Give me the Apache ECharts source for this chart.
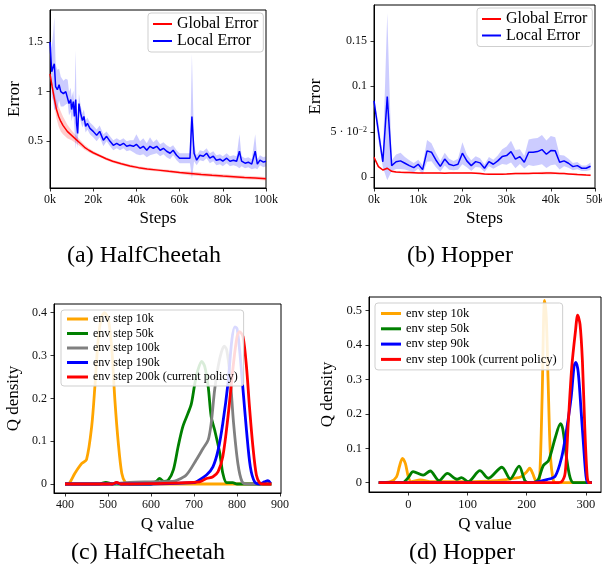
<!DOCTYPE html>
<html>
<head>
<meta charset="utf-8">
<script src="https://cdn.jsdelivr.net/npm/echarts@6/dist/echarts.min.js"></script>
<style>
html, body { margin: 0; padding: 0; background: #fff; }
#chart { width: 602px; height: 576px; }
</style>
</head>
<body>
<div id="chart"></div>
<script>
var FONT = 'Liberation Serif';

// ---- (a) HalfCheetah, steps in thousands ----
var globalStepsA = [0,1,2,3,4,5,6,7,8,10,12,14,16,18,20,23,26,29,33,37,41,45,50,55,60,65,70,75,80,85,90,95,100];
var globalErrA = [1.18,1.05,0.93,0.82,0.75,0.70,0.66,0.63,0.60,0.56,0.52,0.48,0.44,0.41,0.385,0.355,0.325,0.30,0.275,0.252,0.235,0.222,0.21,0.198,0.187,0.177,0.167,0.158,0.15,0.143,0.136,0.13,0.123];
var globalSpreadA = [0.02,0.04,0.07,0.09,0.1,0.1,0.09,0.08,0.07,0.05,0.04,0.03,0.025,0.02,0.018,0.015,0.015,0.015,0.015,0.015,0.015,0.015,0.015,0.015,0.015,0.02,0.018,0.018,0.018,0.018,0.018,0.018,0.018];

var localStepsA = [0,0.8,1.5,2,2.6,3.4,4.2,5,6.2,7.3,8.2,8.8,9.6,10,10.8,11.3,11.9,12.3,12.8,13.4,14.2,15,15.7,16.5,17.3,18.5,20,21.6,23,24.7,26.2,27.8,29.3,30.9,32.4,34,35.5,37,38.6,40,41.7,43.2,44.8,46.3,47.8,49.4,51,52.5,54,55.6,57,58.6,60,63,64.8,65.7,66.7,67.9,69.4,71,72.5,74,75.6,77,78.7,80,81.8,83.3,84.9,86.4,87.7,88.7,90.3,91.8,93.4,95,96,97.2,98.8,100];
var localErrA = [1.50,1.20,1.25,1.28,1.05,1.02,1.07,1.00,0.98,1.00,1.00,0.88,0.92,0.82,0.90,0.75,0.92,0.68,0.58,0.88,0.78,0.71,0.75,0.65,0.68,0.63,0.60,0.56,0.60,0.51,0.55,0.50,0.46,0.48,0.46,0.48,0.45,0.46,0.45,0.47,0.43,0.45,0.41,0.45,0.43,0.45,0.41,0.43,0.40,0.38,0.41,0.36,0.33,0.33,0.33,0.75,0.38,0.31,0.36,0.35,0.38,0.33,0.35,0.31,0.32,0.30,0.33,0.30,0.31,0.30,0.40,0.30,0.28,0.29,0.27,0.40,0.27,0.31,0.29,0.30];
var localSpreadA = [0.05,0.25,0.35,0.47,0.22,0.2,0.16,0.15,0.13,0.13,0.12,0.12,0.12,0.12,0.11,0.12,0.5,0.16,0.15,0.1,0.08,0.07,0.07,0.06,0.06,0.06,0.06,0.06,0.06,0.06,0.05,0.05,0.05,0.05,0.05,0.05,0.05,0.05,0.06,0.1,0.07,0.08,0.07,0.09,0.06,0.07,0.06,0.06,0.06,0.06,0.05,0.05,0.05,0.05,0.05,0.63,0.08,0.05,0.05,0.05,0.05,0.05,0.05,0.05,0.05,0.05,0.05,0.05,0.05,0.05,0.17,0.05,0.05,0.05,0.05,0.17,0.05,0.05,0.05,0.05];

// ---- (b) Hopper, steps in thousands ----
var stepsB = [0,1,2,3,4,5,6,7,8,9,10,11,12,13,14,15,16,17,18,19,20,21,22,23,24,25,26,27,28,29,30,31,32,33,34,35,36,37,38,39,40,41,42,43,44,45,46,47,48,49];
var globalErrB = [0.022,0.0117,0.008,0.0099,0.0065,0.0058,0.0055,0.0053,0.0052,0.005,0.0048,0.0046,0.0048,0.0048,0.0047,0.0046,0.0045,0.0046,0.0046,0.0046,0.0046,0.0047,0.0047,0.0045,0.0042,0.0036,0.0034,0.0034,0.0034,0.0034,0.0035,0.0038,0.004,0.004,0.0041,0.0042,0.0043,0.0044,0.0045,0.0046,0.0046,0.0045,0.0042,0.004,0.0037,0.0034,0.003,0.0028,0.0024,0.0022];
var globalSpreadB = [0.002,0.001,0.001,0.001,0.001,0.001,0.001,0.001,0.001,0.001,0.001,0.001,0.001,0.001,0.001,0.001,0.001,0.001,0.001,0.001,0.001,0.001,0.001,0.001,0.001,0.001,0.001,0.001,0.001,0.001,0.001,0.001,0.001,0.001,0.001,0.001,0.001,0.0012,0.0015,0.0015,0.0015,0.0012,0.001,0.001,0.001,0.001,0.001,0.001,0.001,0.001];
var localErrB = [0.0839,0.050,0.017,0.0886,0.0128,0.017,0.018,0.0154,0.0128,0.0106,0.0143,0.0084,0.029,0.0275,0.019,0.012,0.020,0.0143,0.0128,0.0143,0.0264,0.018,0.0128,0.0172,0.0158,0.0099,0.0172,0.0143,0.018,0.0227,0.0238,0.0282,0.020,0.0227,0.0165,0.0275,0.0275,0.0282,0.0304,0.0253,0.0293,0.029,0.0165,0.018,0.0154,0.0117,0.0128,0.0099,0.0099,0.0121];
var localSpreadB = [0.003,0.01,0.006,0.092,0.006,0.008,0.009,0.007,0.006,0.005,0.005,0.005,0.012,0.01,0.008,0.006,0.007,0.006,0.005,0.006,0.012,0.007,0.006,0.006,0.005,0.004,0.005,0.005,0.006,0.008,0.01,0.012,0.01,0.008,0.007,0.014,0.015,0.015,0.016,0.015,0.016,0.015,0.008,0.006,0.005,0.004,0.004,0.003,0.003,0.004];

// ---- (c) HalfCheetah Q density ----
var qC10 = [400,410,423,439,450,462,470,477,485,492,501,509,516,524,532,540,550,650,780,880];
var dC10 = [0,0.002,0.025,0.048,0.057,0.134,0.235,0.336,0.39,0.40,0.383,0.313,0.196,0.095,0.025,0.004,0,0,0,0];
var qC50 = [400,480,495,510,600,612,620,630,640,652,663,674,686,694,702,709,718,725,733,740,748,760,767,776,790,800,880];
var dC50 = [0,0,0.004,0,0,0.006,0.013,0.006,0.009,0.033,0.087,0.134,0.165,0.188,0.235,0.266,0.286,0.274,0.227,0.157,0.126,0.072,0.025,0.003,0.003,0,0];
var qC100 = [400,500,550,600,650,659,682,705,721,733,740,748,756,764,770,776,784,792,802,812,825,880];
var dC100 = [0,0,0.004,0.005,0.006,0.008,0.021,0.056,0.083,0.103,0.142,0.22,0.274,0.309,0.322,0.313,0.25,0.142,0.048,0.005,0,0];
var qC190 = [400,510,520,530,600,700,705,729,744,756,767,779,788,795,800,806,814,822,831,841,853,864,872,878];
var dC190 = [0,0,0.003,0,0,0.003,0.005,0.021,0.04,0.079,0.142,0.235,0.336,0.367,0.363,0.313,0.22,0.126,0.04,0.005,0,0.005,0.008,0.002];
var qC200 = [400,510,520,530,600,713,729,744,756,767,779,791,800,806,814,822,829,837,845,853,860,880];
var dC200 = [0,0,0.004,0,0.001,0.005,0.013,0.017,0.029,0.064,0.157,0.274,0.344,0.356,0.344,0.274,0.18,0.087,0.021,0.002,0,0];

// ---- (d) Hopper Q density ----
var qD10 = [-50,-30,-20,-15,-10,-5,0,5,20,40,100,150,170,180,190,200,205,210,215,219,222,226,230,233,236,240,245,250,310];
var dD10 = [0,0.003,0.017,0.047,0.071,0.056,0.017,0.003,0.008,0.003,0.003,0.006,0.01,0.013,0.017,0.032,0.042,0.027,0.006,0.003,0.02,0.25,0.53,0.48,0.30,0.08,0.006,0,0];
var qD50 = [-50,-10,0,8,25,37,52,66,82,90,101,121,135,158,172,187,197,205,215,220,228,237,248,257,261,267,273,279,310];
var dD50 = [0,0,0.015,0.032,0.022,0.034,0.006,0.027,0.01,0.015,0.003,0.035,0.013,0.045,0.011,0.048,0.006,0,0.003,0.011,0.05,0.065,0.13,0.172,0.155,0.075,0.016,0,0];
var qD90 = [-50,210,220,234,248,259,267,275,280,283,287,292,296,300,303,310];
var dD90 = [0,0,0.003,0.009,0.019,0.074,0.151,0.248,0.34,0.35,0.32,0.204,0.107,0.02,0,0];
var qD100 = [-50,250,259,265,270,276,282,286,290,294,298,302,305,310];
var dD100 = [0,0,0.003,0.03,0.17,0.335,0.436,0.487,0.46,0.354,0.16,0.02,0,0];

// tick values and labels
var xTicksA = [0,20,40,60,80,100];
var yTicksA = [0.5,1,1.5];
var yLabelsA = ['0.5','1','1.5'];
var xTicksB = [0,10,20,30,40,50];
var yTicksB = [0,0.05,0.1,0.15];
var yLabelsB = ['0','5 · 10{s|−2}','0.1','0.15'];
var xTicksC = [400,500,600,700,800,900];
var yTicksC = [0,0.1,0.2,0.3,0.4];
var xTicksD = [0,100,200,300];
var yTicksD = [0,0.1,0.2,0.3,0.4,0.5];

function pairs(xs, ys) {
  return xs.map(function (x, i) { return [x, ys[i]]; });
}

function pickLabel(ticks, labels) {
  return function (v) {
    for (var i = 0; i < ticks.length; i++) {
      if (Math.abs(ticks[i] - v) < 1e-9) return labels[i];
    }
    return '';
  };
}

// shaded band (mean +- spread) drawn as one polygon
function band(gi, xs, ys, sp, color) {
  return {
    type: 'custom', xAxisIndex: gi, yAxisIndex: gi, silent: true, clip: true, z: 1,
    animation: false,
    data: xs.map(function (x, i) { return [x, ys[i] - sp[i], ys[i] + sp[i]]; }),
    encode: { x: 0, y: [1, 2] },
    renderItem: function (params, api) {
      if (params.dataIndex !== 0) return;
      var pts = [];
      for (var i = 0; i < xs.length; i++) pts.push(api.coord([xs[i], ys[i] + sp[i]]));
      for (var j = xs.length - 1; j >= 0; j--) pts.push(api.coord([xs[j], ys[j] - sp[j]]));
      return { type: 'polygon', shape: { points: pts }, style: { fill: color } };
    }
  };
}

function line(gi, name, xs, ys, color, width, smooth) {
  return {
    type: 'line', name: name, xAxisIndex: gi, yAxisIndex: gi,
    data: pairs(xs, ys), color: color, symbol: 'none', smooth: smooth || false,
    lineStyle: { color: color, width: width }, animation: false, z: 3
  };
}

function xAxis(gi, min, max, ticks, fmt, name, gap, fs) {
  return {
    type: 'value', gridIndex: gi, min: min, max: max,
    name: name, nameLocation: 'middle', nameGap: gap, nameMoveOverlap: false,
    nameTextStyle: { fontFamily: FONT, fontSize: 17, color: '#000' },
    axisLine: { onZero: false, lineStyle: { color: '#000', width: 1 } },
    axisTick: { customValues: ticks, length: 3.5, lineStyle: { color: '#000', width: 0.8 } },
    axisLabel: { customValues: ticks, formatter: fmt, fontFamily: FONT, fontSize: fs, color: '#111', margin: 6 },
    splitLine: { show: false }
  };
}

function yAxis(gi, min, max, ticks, fmt, name, gap, fs, rich) {
  var ax = {
    type: 'value', gridIndex: gi, min: min, max: max,
    name: name, nameLocation: 'middle', nameGap: gap, nameMoveOverlap: false,
    nameTextStyle: { fontFamily: FONT, fontSize: 17, color: '#000' },
    axisLine: { onZero: false, lineStyle: { color: '#000', width: 1 } },
    axisTick: { customValues: ticks, length: 3.5, lineStyle: { color: '#000', width: 0.8 } },
    axisLabel: { customValues: ticks, formatter: fmt, fontFamily: FONT, fontSize: fs, color: '#111', margin: 7 },
    splitLine: { show: false }
  };
  if (rich) ax.axisLabel.rich = rich;
  return ax;
}

function legend(names, left, top, fs, gap, iw, ih, pad) {
  return {
    data: names, orient: 'vertical', left: left, top: top,
    icon: 'rect', itemWidth: iw, itemHeight: ih, itemGap: gap, padding: pad,
    selectedMode: false, borderColor: '#cfcfcf', borderWidth: 1, borderRadius: 3,
    backgroundColor: 'rgba(255,255,255,0.85)',
    itemStyle: { borderWidth: 0 },
    textStyle: { fontFamily: FONT, fontSize: fs, lineHeight: fs, color: '#000' }
  };
}

function caption(text, x, y) {
  return {
    type: 'text', x: x, y: y,
    style: { text: text, fontFamily: FONT, fontSize: 24, fill: '#000', align: 'center', verticalAlign: 'middle' }
  };
}

var kFmt = function (v) { return v + 'k'; };
var plainFmt = function (v) { return String(v); };

var series = [
  band(0, globalStepsA, globalErrA, globalSpreadA, 'rgba(255,0,0,0.2)'),
  band(0, localStepsA, localErrA, localSpreadA, 'rgba(0,0,255,0.2)'),
  line(0, 'Global Error', globalStepsA, globalErrA, '#ff0000', 1.5),
  line(0, 'Local Error', localStepsA, localErrA, '#0000ff', 1.5),
  band(1, stepsB, globalErrB, globalSpreadB, 'rgba(255,0,0,0.2)'),
  band(1, stepsB, localErrB, localSpreadB, 'rgba(0,0,255,0.2)'),
  line(1, 'Global Error', stepsB, globalErrB, '#ff0000', 1.5),
  line(1, 'Local Error', stepsB, localErrB, '#0000ff', 1.5),
  line(2, 'env step 10k', qC10, dC10, '#ffa500', 2.8, 0.3),
  line(2, 'env step 50k', qC50, dC50, '#008000', 2.8, 0.3),
  line(2, 'env step 100k', qC100, dC100, '#808080', 2.8, 0.3),
  line(2, 'env step 190k', qC190, dC190, '#0000ff', 2.8, 0.3),
  line(2, 'env step 200k (current policy)', qC200, dC200, '#ff0000', 2.8, 0.3),
  line(3, 'env step 10k', qD10, dD10, '#ffa500', 2.8, 0.3),
  line(3, 'env step 50k', qD50, dD50, '#008000', 2.8, 0.3),
  line(3, 'env step 90k', qD90, dD90, '#0000ff', 2.8, 0.3),
  line(3, 'env step 100k (current policy)', qD100, dD100, '#ff0000', 2.8, 0.3)
];

var myChart = echarts.init(document.getElementById('chart'));
myChart.setOption({
  backgroundColor: '#fff',
  animation: false,
  grid: [
    { left: 50, top: 10, width: 216, height: 178 },
    { left: 374, top: 5, width: 221, height: 183 },
    { left: 54, top: 304, width: 227, height: 189 },
    { left: 369, top: 297, width: 232, height: 195 }
  ].map(function (g) {
    return Object.assign(g, { show: true, borderColor: '#000', borderWidth: 1, backgroundColor: 'transparent', outerBoundsMode: 'none' });
  }),
  xAxis: [
    xAxis(0, 0, 100, xTicksA, kFmt, 'Steps', 22, 12),
    xAxis(1, 0, 50, xTicksB, kFmt, 'Steps', 22, 12),
    xAxis(2, 374.4, 902.3, xTicksC, plainFmt, 'Q value', 23, 12),
    xAxis(3, -66.4, 325.4, xTicksD, plainFmt, 'Q value', 24, 12.5)
  ],
  yAxis: [
    yAxis(0, 0.03, 1.822, yTicksA, pickLabel(yTicksA, yLabelsA), 'Error', 27, 12),
    yAxis(1, -0.0118, 0.1893, yTicksB, pickLabel(yTicksB, yLabelsB), 'Error', 50, 12,
      { s: { fontFamily: FONT, fontSize: 8, lineHeight: 8, verticalAlign: 'top', color: '#111' } }),
    yAxis(2, -0.021, 0.4203, yTicksC, plainFmt, 'Q density', 32, 12),
    yAxis(3, -0.027, 0.5398, yTicksD, plainFmt, 'Q density', 33, 12.5)
  ],
  legend: [
    legend(['Global Error', 'Local Error'], 148, 13, 16, 1, 19, 2, [3, 5, 3, 5]),
    legend(['Global Error', 'Local Error'], 477, 8, 16, 0.5, 19, 2, [3, 5, 3, 5]),
    legend(['env step 10k', 'env step 50k', 'env step 100k', 'env step 190k', 'env step 200k (current policy)'],
      61, 310, 12, 2.5, 21, 3, [3, 6, 3, 6]),
    legend(['env step 10k', 'env step 50k', 'env step 90k', 'env step 100k (current policy)'],
      375, 303, 12.5, 2.3, 20, 3, [4, 6, 4, 6])
  ],
  graphic: [
    caption('(a) HalfCheetah', 144, 256),
    caption('(b) Hopper', 460, 256),
    caption('(c) HalfCheetah', 148, 553),
    caption('(d) Hopper', 462, 553)
  ],
  series: series
});
window.addEventListener('resize', function () {
  myChart.resize();
});
</script>
</body>
</html>
